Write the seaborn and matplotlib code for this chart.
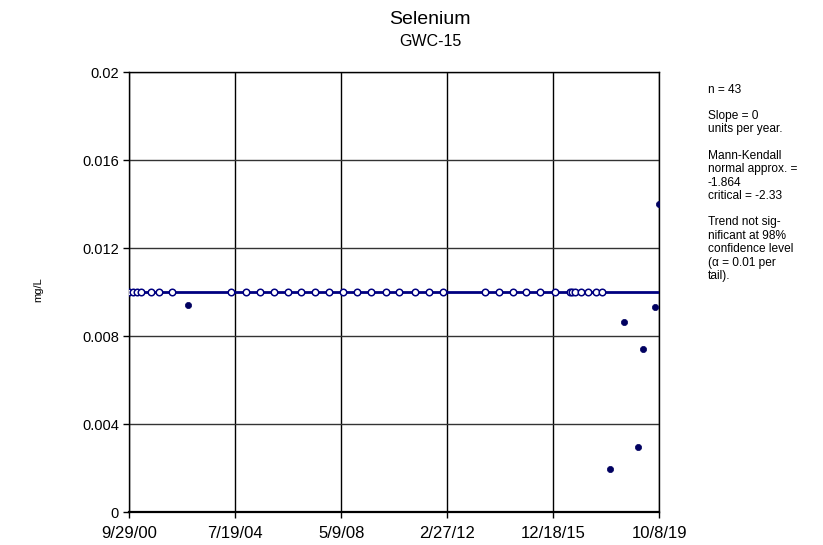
import matplotlib
matplotlib.use("Agg")
import matplotlib.pyplot as plt
import seaborn as sns
import pandas as pd
import numpy as np

# ---- data ----
nd_dates = ["2000-09-29", "2000-11-20", "2001-01-04", "2001-03-01", "2001-07-10",
            "2001-10-23", "2002-04-15", "2004-05-22", "2004-12-01", "2005-06-06",
            "2005-12-11", "2006-06-09", "2006-11-27", "2007-05-29", "2007-12-02",
            "2008-05-26", "2008-11-25", "2009-06-09", "2009-12-14", "2010-06-06",
            "2010-12-29", "2011-06-30", "2012-01-03", "2013-07-04", "2014-01-03",
            "2014-07-02", "2014-12-29", "2015-07-03", "2016-01-07", "2016-07-22",
            "2016-08-21", "2016-09-25", "2016-12-21", "2017-03-18", "2017-06-27",
            "2017-09-22"]
nd_values = [0.01] * len(nd_dates)

det_dates = ["2002-11-10", "2017-12-31", "2018-06-29", "2019-01-02",
             "2019-03-08", "2019-08-18", "2019-10-06"]
det_values = [0.0094, 0.00195, 0.00865, 0.00297, 0.00742, 0.0093, 0.014]

trend_dates = ["2000-09-29", "2019-10-08"]
trend_values = [0.01, 0.01]

tick_dates = ["2000-09-29", "2004-07-19", "2008-05-09", "2012-02-27", "2015-12-18", "2019-10-08"]
tick_labels = ["9/29/00", "7/19/04", "5/9/08", "2/27/12", "12/18/15", "10/8/19"]
y_ticks = [0, 0.004, 0.008, 0.012, 0.016, 0.02]
y_labels = ["0", "0.004", "0.008", "0.012", "0.016", "0.02"]

title = "Selenium"
subtitle = "GWC-15"
ylabel = "mg/L"
notes = [
    "n = 43",
    "Slope = 0\nunits per year.",
    "Mann-Kendall\nnormal approx. =\n-1.864\ncritical = -2.33",
    "Trend not sig-\nnificant at 98%\nconfidence level\n(\u03b1 = 0.01 per\ntail).",
]

# ---- frames ----
nd = pd.DataFrame({"date": pd.to_datetime(nd_dates), "value": nd_values})
det = pd.DataFrame({"date": pd.to_datetime(det_dates), "value": det_values})
trend = pd.DataFrame({"date": pd.to_datetime(trend_dates), "value": trend_values})

sns.set_style("white")
plt.rcParams["font.family"] = ["Liberation Sans", "DejaVu Sans"]
plt.rcParams["text.color"] = "black"

W, H = 823, 545
fig = plt.figure(figsize=(W / 100, H / 100), dpi=100)
ax = fig.add_axes([129.3 / W, 1 - 512 / H, 530 / W, 440 / H])

navy = "#000080"
sns.lineplot(data=trend, x="date", y="value", ax=ax, color=navy, linewidth=2.0, zorder=3)
sns.scatterplot(data=nd, x="date", y="value", ax=ax, marker="o", s=22,
                facecolor="white", edgecolor=navy, linewidth=1.1, zorder=4)
sns.scatterplot(data=det, x="date", y="value", ax=ax, marker="o", s=20,
                color="#000060", edgecolor="#000060", linewidth=0.5, zorder=5)

ax.set_xlim(pd.Timestamp(tick_dates[0]), pd.Timestamp(tick_dates[-1]))
ax.set_ylim(0, 0.02)
ax.set_xticks(pd.to_datetime(tick_dates))
ax.set_xticklabels(tick_labels, fontsize=12)
ax.set_yticks(y_ticks)
ax.set_yticklabels(y_labels, fontsize=10.5)

for d in pd.to_datetime(tick_dates):
    ax.axvline(d, color="black", linewidth=1.0, zorder=1)
for y in y_ticks:
    ax.axhline(y, color="#333333", linewidth=1.0, zorder=1)

for s in ax.spines.values():
    s.set_visible(True)
    s.set_color("black")
    s.set_linewidth(1.0)
ax.spines["bottom"].set_linewidth(1.6)

ax.tick_params(axis="both", which="major", direction="out", length=4, width=1,
               color="black", labelcolor="black", bottom=True, left=True)
ax.tick_params(axis="x", pad=6)
ax.set_xlabel("")
ax.set_ylabel("")

fig.text(430 / W, 1 - 19 / H, title, ha="center", va="center", fontsize=14, color="black")
fig.text(430 / W, 1 - 41 / H, subtitle, ha="center", va="center", fontsize=11.5, color="black")
fig.text(38 / W, 1 - 290 / H, ylabel, ha="center", va="center", rotation=90, fontsize=8, color="black")

note_tops = [84, 110, 150, 216.5]
for t, ytop in zip(notes, note_tops):
    fig.text(708 / W, 1 - ytop / H, t, ha="left", va="top", fontsize=8.6,
             linespacing=1.15, color="black")

fig.savefig("out.png", dpi=100)
